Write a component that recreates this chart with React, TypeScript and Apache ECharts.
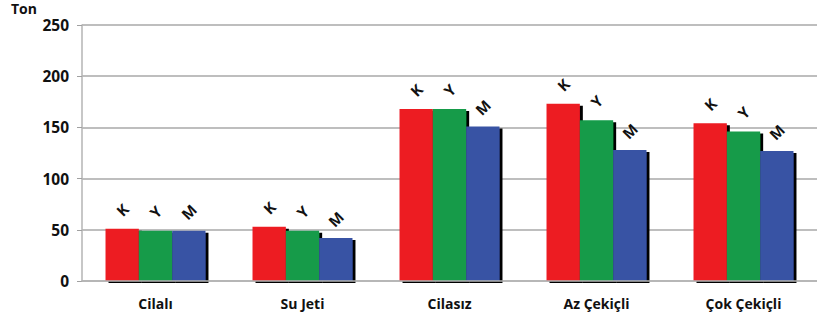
import React, { useEffect, useRef } from "react";
import * as echarts from "echarts";

const categories = ["Cilalı", "Su Jeti", "Cilasız", "Az Çekiçli", "Çok Çekiçli"];
const seriesNames = ["K", "Y", "M"];
const kValues = [51, 53, 168, 173, 154];
const yValues = [49, 49, 168, 157, 146];
const mValues = [49, 42, 151, 128, 127];
const yTicks = [0, 50, 100, 150, 200, 250];

const colors = ["#ED1C24", "#169B48", "#3953A4"];
const FONT = "'Open Sans', 'DejaVu Sans', sans-serif";

export default function App() {
  const ref = useRef<HTMLDivElement>(null);

  useEffect(() => {
    if (!ref.current) return;
    const chart = echarts.init(ref.current, undefined, { renderer: "svg" });
    const values = [kValues, yValues, mValues];

    chart.setOption({
      animation: false,
      backgroundColor: "#ffffff",
      grid: { left: 82, right: 0, top: 25, bottom: 44, containLabel: false },
      graphic: [
        {
          type: "text",
          left: 11,
          top: 1,
          style: { text: "Ton", font: `bold 14px ${FONT}`, fill: "#111" },
        },
      ],
      xAxis: {
        type: "category",
        data: categories,
        z: 5,
        axisLine: { lineStyle: { color: "#b4b4b4", width: 1.5 } },
        axisTick: { show: false },
        axisLabel: {
          margin: 15,
          color: "#111",
          fontWeight: "bold",
          fontSize: 14,
          fontFamily: FONT,
        },
      },
      yAxis: {
        type: "value",
        min: yTicks[0],
        max: yTicks[yTicks.length - 1],
        interval: 50,
        axisLine: { show: true, lineStyle: { color: "#b4b4b4", width: 1.5 } },
        axisTick: { show: true, length: 5, lineStyle: { color: "#a0a0a0" } },
        splitLine: { lineStyle: { color: "#a8a8a8", width: 1.5 } },
        axisLabel: {
          margin: 13,
          color: "#111",
          fontWeight: "bold",
          fontSize: 15.5,
          fontFamily: FONT,
        },
      },
      series: seriesNames.map((name, i) => ({
        name,
        type: "bar",
        data: values[i],
        barGap: "0%",
        barCategoryGap: "32%",
        itemStyle: {
          color: colors[i],
          shadowColor: "#000",
          shadowBlur: 0,
          shadowOffsetX: 3,
          shadowOffsetY: 2,
        },
        label: {
          show: true,
          position: "top",
          distance: 19,
          rotate: 45,
          align: "center",
          verticalAlign: "middle",
          formatter: name,
          color: "#111",
          fontWeight: "bold",
          fontSize: 15,
          fontFamily: FONT,
        },
      })),
    });

    return () => chart.dispose();
  }, []);

  return (
    <div
      ref={ref}
      style={{ position: "fixed", left: 0, top: 0, width: 817, height: 325 }}
    />
  );
}
